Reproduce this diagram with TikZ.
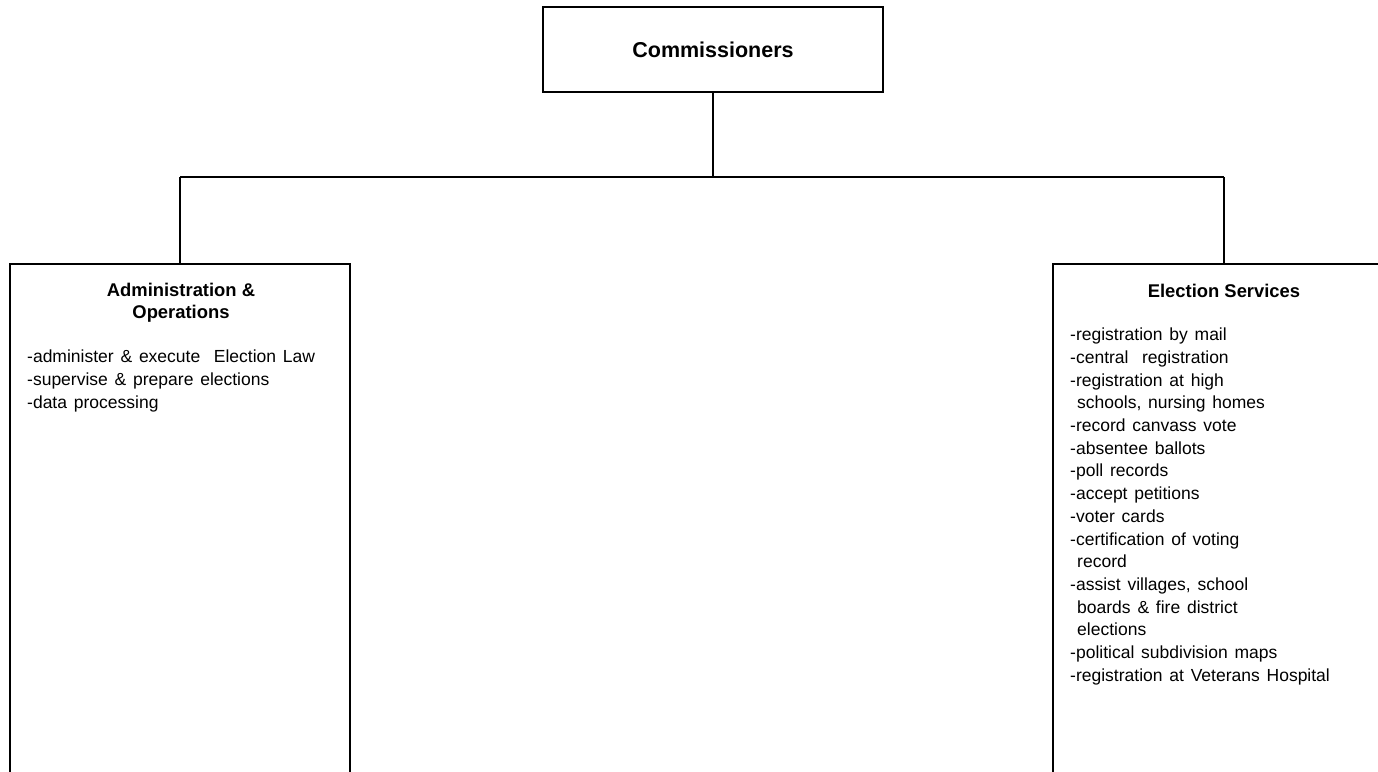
\documentclass[tikz,border=0pt]{standalone}
\usepackage{fontspec}
\setmainfont{Liberation Sans}
\newcommand\mylistfont{\fontsize{17.5}{22.7}\selectfont\spaceskip=6.8pt plus 1pt minus 0.5pt\relax}
\begin{document}
\begin{tikzpicture}[x=1pt,y=-1pt,
  box/.style={draw,line width=1.6pt,rectangle,inner sep=0pt},
  conn/.style={line width=1.4pt},
  titletext/.style={inner sep=0pt,align=center,font=\bfseries\fontsize{18.4}{21.5}\selectfont},
  listtext/.style={inner sep=0pt,align=left,font=\mylistfont},
  toptext/.style={inner sep=0pt,font=\bfseries\fontsize{21.5}{25}\selectfont}]
\clip (0,0) rectangle (1378,771);
\path[use as bounding box] (0,0) rectangle (1378,771);
% boxes
\node[box,minimum width=340pt,minimum height=85pt] (comm) at (713,49.5) {};
\node[box,minimum width=340pt,minimum height=540pt,anchor=north] (admin) at (180,263) {};
\node[box,minimum width=342pt,minimum height=540pt,anchor=north] (elec) at (1224,263) {};
% texts
\node[toptext] (commt) at (713,50) {Commissioners};
\node[titletext] (admint) at (181,302.5) {Administration \&\\Operations};
\node[listtext,anchor=west] (adminl) at (27,381) {-administer \& execute~ Election Law\\-supervise \& prepare elections\\-data processing};
\node[titletext] (elect) at (1224,291) {Election Services};
\node[listtext,anchor=west] (elecl) at (1070,506.5) {-registration by mail\\-central~ registration\\-registration at high\\\hspace*{7pt}schools, nursing homes\\-record canvass vote\\-absentee ballots\\-poll records\\-accept petitions\\-voter cards\\-certification of voting\\\hspace*{7pt}record\\-assist villages, school\\\hspace*{7pt}boards \& fire district\\\hspace*{7pt}elections\\-political subdivision maps\\-registration at Veterans Hospital};
% connectors
\coordinate (busL) at (180,177);
\coordinate (busR) at (1224,177);
\draw[conn] (comm.south) -- (comm.south |- busL);
\draw[conn] (busL) -- (busR);
\draw[conn] (busL) -- (admin.north);
\draw[conn] (busR) -- (elec.north);
\end{tikzpicture}
\end{document}
